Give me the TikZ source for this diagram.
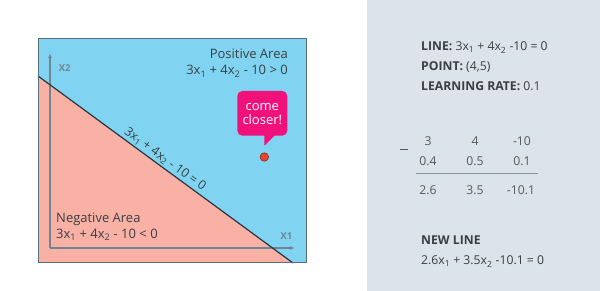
\documentclass[tikz,border=0pt]{standalone}
\usepackage{fontspec}
\setmainfont{Open Sans}
\usetikzlibrary{arrows.meta}
\definecolor{skyblue}{HTML}{80D4F1}
\definecolor{salmon}{HTML}{F9B0A5}
\definecolor{panelgray}{HTML}{DDE3EA}
\definecolor{framecol}{HTML}{56707F}
\definecolor{axiscol}{HTML}{6F8794}
\definecolor{linecol}{HTML}{2B3540}
\definecolor{bubblepink}{HTML}{F0127A}
\definecolor{dotred}{HTML}{E8452C}
\definecolor{dotrim}{HTML}{8A2A1E}
\definecolor{txt}{HTML}{3A3F45}
\definecolor{numcol}{HTML}{55595F}
\definecolor{rulecol}{HTML}{8A9099}
\newcommand\sbs[1]{\textsubscript{#1}}
\begin{document}
\begin{tikzpicture}[x=1pt,y=-1pt,
  lbl/.style={font=\fontsize{13}{14}\selectfont, text=txt, inner sep=0pt},
  info/.style={font=\fontsize{12.2}{14}\selectfont, text=txt, inner sep=0pt, anchor=base west},
  num/.style={font=\fontsize{12.2}{14}\selectfont, text=numcol, inner sep=0pt, anchor=base},
  axislbl/.style={font=\bfseries\fontsize{9.5}{10}\selectfont, text=axiscol, inner sep=0pt},
  axisline/.style={draw=axiscol, line width=1.2pt, -{Latex[length=5pt,width=4pt]}},
  bubbletxt/.style={font=\fontsize{13}{14}\selectfont, text=white, inner sep=0pt, anchor=base},
]
\useasboundingbox (0,0) rectangle (600,291);
\fill[white] (0,0) rectangle (367,291);
\fill[panelgray] (367,0) rectangle (600,291);
% plot area
\coordinate (bl) at (38,263);
\coordinate (tl) at (38,39);
\coordinate (tr) at (306,39);
\coordinate (br) at (306,263);
\coordinate (la) at (38,76);
\coordinate (lb) at (293,263);
\fill[skyblue] (tl) rectangle (br);
\fill[salmon] (la) -- (lb) -- (bl) -- cycle;
% axes
\coordinate (origin) at (50,248);
\coordinate (xend) at (295,248);
\coordinate (yend) at (50,53);
\draw[axisline] (origin) -- (xend);
\draw[axisline] (origin) -- (yend);
\node[axislbl] (x2lbl) at (64.7,68) {X2};
\node[axislbl] (x1lbl) at (286.5,235.7) {X1};
% boundary line
\draw[draw=linecol, line width=1.2pt] (la) -- node[sloped, above, pos=0.48, inner sep=1.5pt, font=\fontsize{12.5}{14}\selectfont, text=txt] (linelbl) {3x\sbs{1} + 4x\sbs{2} - 10 = 0} (lb);
\draw[framecol, line width=1pt] (tl) rectangle (br);
% area labels
\node[lbl, anchor=base east] (posarea) at (288,58.3) {Positive Area};
\node[lbl, anchor=base east] (poseq) at (288,75) {3x\sbs{1} + 4x\sbs{2} - 10 > 0};
\node[lbl, anchor=base west] (negarea) at (56,223) {Negative Area};
\node[lbl, anchor=base west] (negeq) at (56,238.5) {3x\sbs{1} + 4x\sbs{2} - 10 < 0};
% bubble
\fill[bubblepink, rounded corners=5pt] (237.3,91) rectangle (287.3,135.7);
\fill[bubblepink] (264.3,134) -- (264.3,145.7) -- (276,134) -- cycle;
\node[bubbletxt] (come) at (262.3,111) {come};
\node[bubbletxt] (closer) at (262.3,124.3) {closer!};
\node[circle, fill=dotred, draw=dotrim, line width=0.6pt, minimum size=8.5pt, inner sep=0pt] (pt) at (264.3,157) {};
% right panel
\node[info] (linetxt) at (421,51) {\textbf{LINE:} 3x\sbs{1} + 4x\sbs{2} -10 = 0};
\node[info] (pointtxt) at (421,71) {\textbf{POINT:} (4,5)};
\node[info] (ratetxt) at (421,91) {\textbf{LEARNING RATE:} 0.1};
\node[inner sep=0pt] (minus) at (404,150) {\color{numcol}\rule{8pt}{1pt}};
\node[num] (a1) at (428,146) {3};
\node[num] (a2) at (475,146) {4};
\node[num] (a3) at (522,146) {-10};
\node[num] (b1) at (428,166) {0.4};
\node[num] (b2) at (475,166) {0.5};
\node[num] (b3) at (522,166) {0.1};
\draw[rulecol, line width=1pt] (416,174) -- (538,174);
\node[num] (c1) at (428,195) {2.6};
\node[num] (c2) at (475,195) {3.5};
\node[num] (c3) at (521,195) {-10.1};
\node[info] (newline) at (421,245) {\textbf{NEW LINE}};
\node[info] (neweq) at (421,265) {2.6x\sbs{1} + 3.5x\sbs{2} -10.1 = 0};
\end{tikzpicture}
\end{document}
